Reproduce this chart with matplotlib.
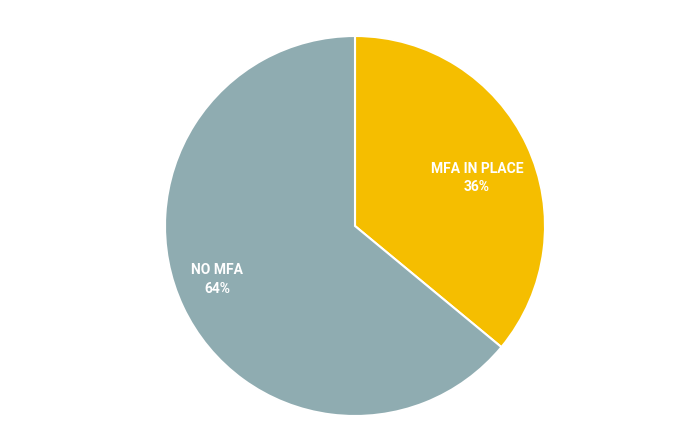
import numpy as np
import matplotlib.pyplot as plt

# data
labels = ['MFA IN PLACE', 'NO MFA']
values = [36, 64]
colors = ['#F5BE00', '#8FACB1']
label_dist = [0.71, 0.80]
label_dy = [-0.05, 0.06]

fig = plt.figure(figsize=(6.93, 4.46), dpi=100)
cx, cy, r = 355, 226, 190
ax = fig.add_axes([(cx - r) / 693, (446 - cy - r) / 446, 2 * r / 693, 2 * r / 446])

wedges, _ = ax.pie(values, colors=colors, startangle=90, counterclock=False,
                   radius=1, wedgeprops=dict(edgecolor='white', linewidth=1.5))

# labels inside slices
start = 90
for lab, v, d, dy in zip(labels, values, label_dist, label_dy):
    mid = np.deg2rad(start - v * 3.6 / 2)
    start -= v * 3.6
    ax.text(d * np.cos(mid), d * np.sin(mid) + dy, f'{lab}\n{v}%',
            ha='center', va='center', color='white', fontsize=10,
            fontweight='bold', family='Roboto', linespacing=1.4)

ax.set_xlim(-1, 1)
ax.set_ylim(-1, 1)
ax.set_aspect('equal')
ax.axis('off')

fig.savefig('out.png', dpi=100)
